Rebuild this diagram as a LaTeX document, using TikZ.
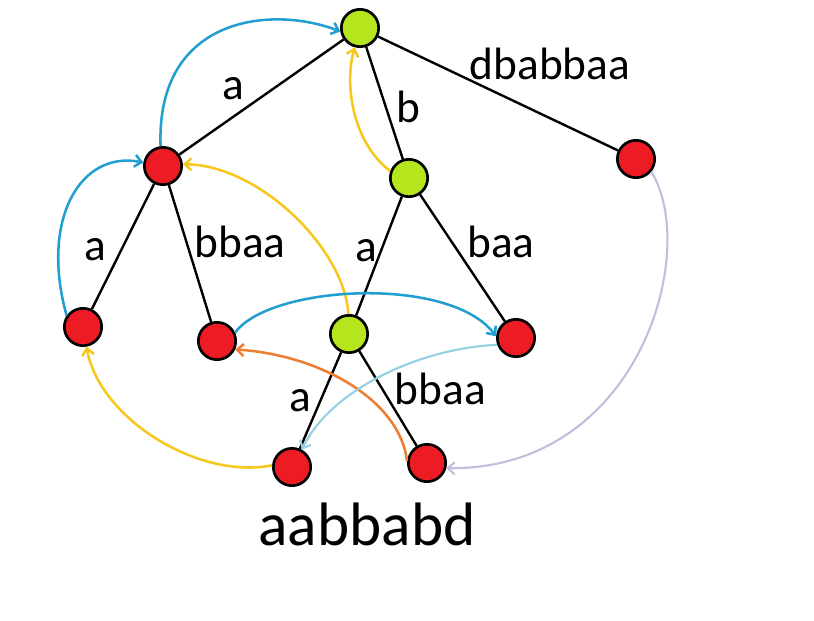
\documentclass[tikz,border=0pt]{standalone}
\usepackage{fontspec}
\setmainfont{Carlito}
\usetikzlibrary{arrows.meta}
\definecolor{nred}{RGB}{237,28,36}
\definecolor{ngreen}{RGB}{181,230,29}
\definecolor{cblue}{RGB}{34,158,208}
\definecolor{cyellow}{RGB}{246,200,30}
\definecolor{corange}{RGB}{237,125,49}
\definecolor{clight}{RGB}{150,208,228}
\definecolor{clav}{RGB}{192,192,222}
\tikzset{
  vtx/.style={circle,draw=black,line width=2pt,minimum size=28pt,inner sep=0pt},
  rv/.style={vtx,fill=nred},
  gv/.style={vtx,fill=ngreen},
  edge/.style={draw=black,line width=1.8pt},
  lbl/.style={anchor=base,inner sep=0pt,font=\fontsize{34}{40}\selectfont},
  big/.style={anchor=base,inner sep=0pt,font=\fontsize{46}{54}\selectfont},
  link/.style={line width=1.9pt,-{Straight Barb[length=5pt,width=9pt]}},
}
\begin{document}
\begin{tikzpicture}[x=0.75pt,y=-0.75pt]
\useasboundingbox (0,0) rectangle (814,621);
% nodes
\node[gv] (R) at (360,28) {};
\node[rv] (A) at (163,166) {};
\node[gv] (B) at (409,178) {};
\node[rv] (C) at (636,159) {};
\node[rv] (D) at (83,327) {};
\node[rv] (E) at (217,341) {};
\node[gv] (F) at (349,334) {};
\node[rv] (G) at (516,338) {};
\node[rv] (H) at (292,467) {};
\node[rv] (I) at (427,463) {};
% tree edges
\draw[edge] (R) -- (A);
\draw[edge] (R) -- (B);
\draw[edge] (R) -- (C);
\draw[edge] (A) -- (D);
\draw[edge] (A) -- (E);
\draw[edge] (B) -- (F);
\draw[edge] (B) -- (G);
\draw[edge] (F) -- (H);
\draw[edge] (F) -- (I);
% labels
\node[lbl] (l1) at (233,99) {a};
\node[lbl] (l2) at (550,79) {dbabbaa};
\node[lbl] (l3) at (408,122) {b};
\node[lbl] (l4) at (95.5,260) {a};
\node[lbl] (l5) at (240,257) {bbaa};
\node[lbl] (l6) at (366.5,261) {a};
\node[lbl] (l7) at (501,257) {baa};
\node[lbl] (l8) at (300,411) {a};
\node[lbl] (l9) at (440.5,404) {bbaa};
\node[big] (l10) at (367,545) {aabbabd};
% colored links
\draw[link,cblue] (A.97) .. controls (156,16) and (272,5) .. (R.190);
\draw[link,cblue] (D.145) .. controls (40,220) and (80,150) .. (A.170);
\draw[link,cyellow] (B.160) .. controls (350,140) and (345,80) .. (R.255);
\draw[link,cyellow] (F.92) .. controls (345,250) and (260,165) .. (A.5);
\draw[link,cblue] (E.25) .. controls (270,285) and (450,275) .. (G.175);
\draw[link,corange] (I.175) .. controls (400,400) and (320,355) .. (E.-25);
\draw[link,clight,line width=1.6pt] (G.200) .. controls (420,348) and (330,390) .. (H.60);
\draw[link,cyellow] (H.175) .. controls (200,480) and (100,420) .. (D.-80);
\draw[link,clav,line width=1.6pt] (C.-40) .. controls (700,250) and (640,470) .. (I.-15);
\end{tikzpicture}
\end{document}
